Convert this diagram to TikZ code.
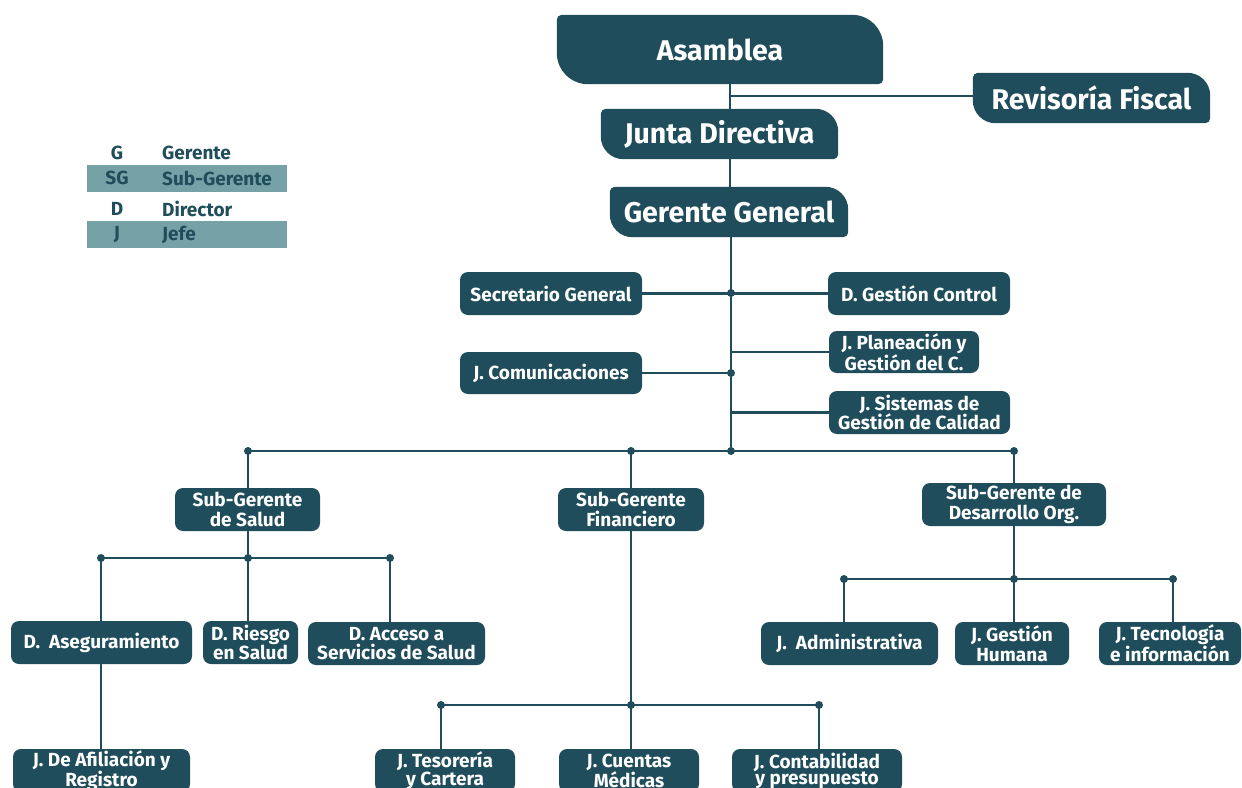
\documentclass[tikz,border=0pt]{standalone}
\usepackage{fontspec}
\setmainfont{Fira Sans}
\usetikzlibrary{calc}
\definecolor{dk}{RGB}{31,77,91}
\definecolor{band}{RGB}{118,161,167}
\pgfdeclarelayer{bgl}\pgfdeclarelayer{bgs}
\pgfsetlayers{bgl,bgs,main}
\tikzset{
  box/.style={fill=dk, rounded corners=8pt, text=white, align=center, inner sep=0pt,
    font=\fontsize{19}{19.5}\selectfont\bfseries},
  lowbox/.style={box, font=\fontsize{19}{16}\selectfont\bfseries},
  topbox/.style={text=white, inner sep=0pt, font=\fontsize{28.5}{30}\selectfont\bfseries},
  conn/.style={draw=dk, line width=2.3pt},
  legl/.style={text=dk, inner sep=0pt, font=\fontsize{19}{20}\selectfont\bfseries},
}
\newcommand\mkbox[7]{\node[#1, minimum width={(#5-#3)*1pt}, minimum height={(#6-#4)*1pt}] (#2) at ({(#3+#5)/2},{(#4+#6)/2}) {#7};}
\newcommand\topshape[1]{%
  \begin{pgfonlayer}{bgs}
  \fill[dk] let \p1=(#1.north west), \p2=(#1.south east), \n1={0.45*(\y1-\y2)} in
    (\x1+5pt,\y1) -- (\x2-\n1,\y1) arc[start angle=90,end angle=0,radius=\n1]
    -- (\x2,\y2+5pt) arc[start angle=0,end angle=-90,radius=5pt]
    -- (\x1+\n1,\y2) arc[start angle=-90,end angle=-180,radius=\n1]
    -- (\x1,\y1-5pt) arc[start angle=180,end angle=90,radius=5pt] -- cycle;
  \end{pgfonlayer}}
\begin{document}
\begin{tikzpicture}[x=1pt,y=-1pt]
\useasboundingbox (0,0) rectangle (1242,787);
% legend
\fill[band] (87,165) rectangle (287,192);
\fill[band] (87,221) rectangle (287,248);
\node[legl] (lg1) at (117,153) {G};
\node[legl,anchor=west] (lg1t) at (162,153) {Gerente};
\node[legl] (lg2) at (117,178) {SG};
\node[legl,anchor=west] (lg2t) at (162,178) {Sub-Gerente};
\node[legl] (lg3) at (117,209) {D};
\node[legl,anchor=west] (lg3t) at (162,209) {Director};
\node[legl] (lg4) at (117,235) {J};
\node[legl,anchor=west] (lg4t) at (162,235) {Jefe};
% top boxes
\mkbox{topbox}{asm}{557}{15}{883}{84}{Asamblea}
\mkbox{topbox}{rf}{973}{73}{1210}{123}{Revisoría Fiscal}
\mkbox{topbox}{jd}{601}{109}{838}{159}{Junta Directiva}
\mkbox{topbox}{gg}{610}{187}{848}{237}{Gerente General}
\topshape{asm}\topshape{rf}\topshape{jd}\topshape{gg}
% staff
\mkbox{box}{sg}{460}{272}{642}{315}{Secretario General}
\mkbox{box}{dgc}{828}{272}{1010}{315}{D. Gestión Control}
\mkbox{box}{jp}{829}{331}{979}{373}{J. Planeación y\\Gestión del C.}
\mkbox{box}{jc}{460}{352}{642}{394}{J. Comunicaciones}
\mkbox{box}{js}{829}{391}{1010}{434}{J. Sistemas de\\Gestión de Calidad}
% sub-gerentes
\mkbox{box}{sgs}{175}{488}{320}{531}{Sub-Gerente\\de Salud}
\mkbox{box}{sgf}{558}{488}{704}{531}{Sub-Gerente\\Financiero}
\mkbox{box}{sgd}{922}{483}{1106}{526}{Sub-Gerente de\\Desarrollo Org.}
% directors / jefes
\mkbox{box}{das}{11}{621}{192}{664}{D.\ \ Aseguramiento}
\mkbox{box}{drs}{203}{621}{298}{664}{D. Riesgo\\en Salud}
\mkbox{box}{dac}{308}{622}{485}{665}{D. Acceso a\\Servicios de Salud}
\mkbox{box}{jadm}{761}{622}{938}{665}{J.\ \ Administrativa}
\mkbox{box}{jgh}{955}{622}{1069}{665}{J. Gestión\\Humana}
\mkbox{box}{jtec}{1099}{622}{1241}{665}{J. Tecnología\\e información}
\mkbox{lowbox}{jaf}{13}{749}{190}{792}{J. De Afiliación y\\Registro}
\mkbox{lowbox}{jtes}{375}{749}{515}{792}{J. Tesorería\\y Cartera}
\mkbox{lowbox}{jcm}{559}{749}{699}{792}{J. Cuentas\\Médicas}
\mkbox{lowbox}{jcon}{732}{749}{902}{792}{J. Contabilidad\\y presupuesto}
% junction coordinates
\coordinate (tr) at (730,0);
\coordinate (c1) at (731,293);
\coordinate (c2) at (731,373);
\coordinate (bl) at (248,451);
\coordinate (bm) at (631,451);
\coordinate (b0) at (731,451);
\coordinate (br) at (1014,451);
\coordinate (s1) at (101,558);
\coordinate (s2) at (248,558);
\coordinate (s3) at (390,558);
\coordinate (f1) at (441,705);
\coordinate (f2) at (631,705);
\coordinate (f3) at (819,705);
\coordinate (d1) at (844,579);
\coordinate (d2) at (1014,579);
\coordinate (d3) at (1173,579);
\begin{pgfonlayer}{bgl}
\draw[conn] (asm.south -| tr) -- (gg.north -| tr);
\draw[conn] (tr |- 0,96) -- (rf.west |- 0,96);
\draw[conn] (gg.south -| b0) -- (b0);
\draw[conn] (sg.east) -- (dgc.west);
\draw[conn] (jc.east) -- (jc.east -| c2);
\draw[conn] (b0 |- jp.west) -- (jp.west);
\draw[conn] (b0 |- js.west) -- (js.west);
\draw[conn] (bl) -- (br);
\draw[conn] (bl) -- (bl |- sgs.north);
\draw[conn] (bm) -- (bm |- sgf.north);
\draw[conn] (br) -- (br |- sgd.north);
\draw[conn] (sgs.south -| s2) -- (s2);
\draw[conn] (s1) -- (s3);
\draw[conn] (s1) -- (s1 |- das.north);
\draw[conn] (s2) -- (s2 |- drs.north);
\draw[conn] (s3) -- (s3 |- dac.north);
\draw[conn] (das.south -| s1) -- (jaf.north -| s1);
\draw[conn] (sgf.south -| f2) -- (f2);
\draw[conn] (f1) -- (f3);
\draw[conn] (f1) -- (f1 |- jtes.north);
\draw[conn] (f2) -- (f2 |- jcm.north);
\draw[conn] (f3) -- (f3 |- jcon.north);
\draw[conn] (sgd.south -| d2) -- (d2);
\draw[conn] (d1) -- (d3);
\draw[conn] (d1) -- (d1 |- jadm.north);
\draw[conn] (d2) -- (d2 |- jgh.north);
\draw[conn] (d3) -- (d3 |- jtec.north);
\end{pgfonlayer}
\foreach \c in {c1,c2,bl,bm,b0,br,s1,s2,s3,f1,f2,f3,d1,d2,d3}
  \fill[dk] (\c) circle (4pt);
\end{tikzpicture}
\end{document}
